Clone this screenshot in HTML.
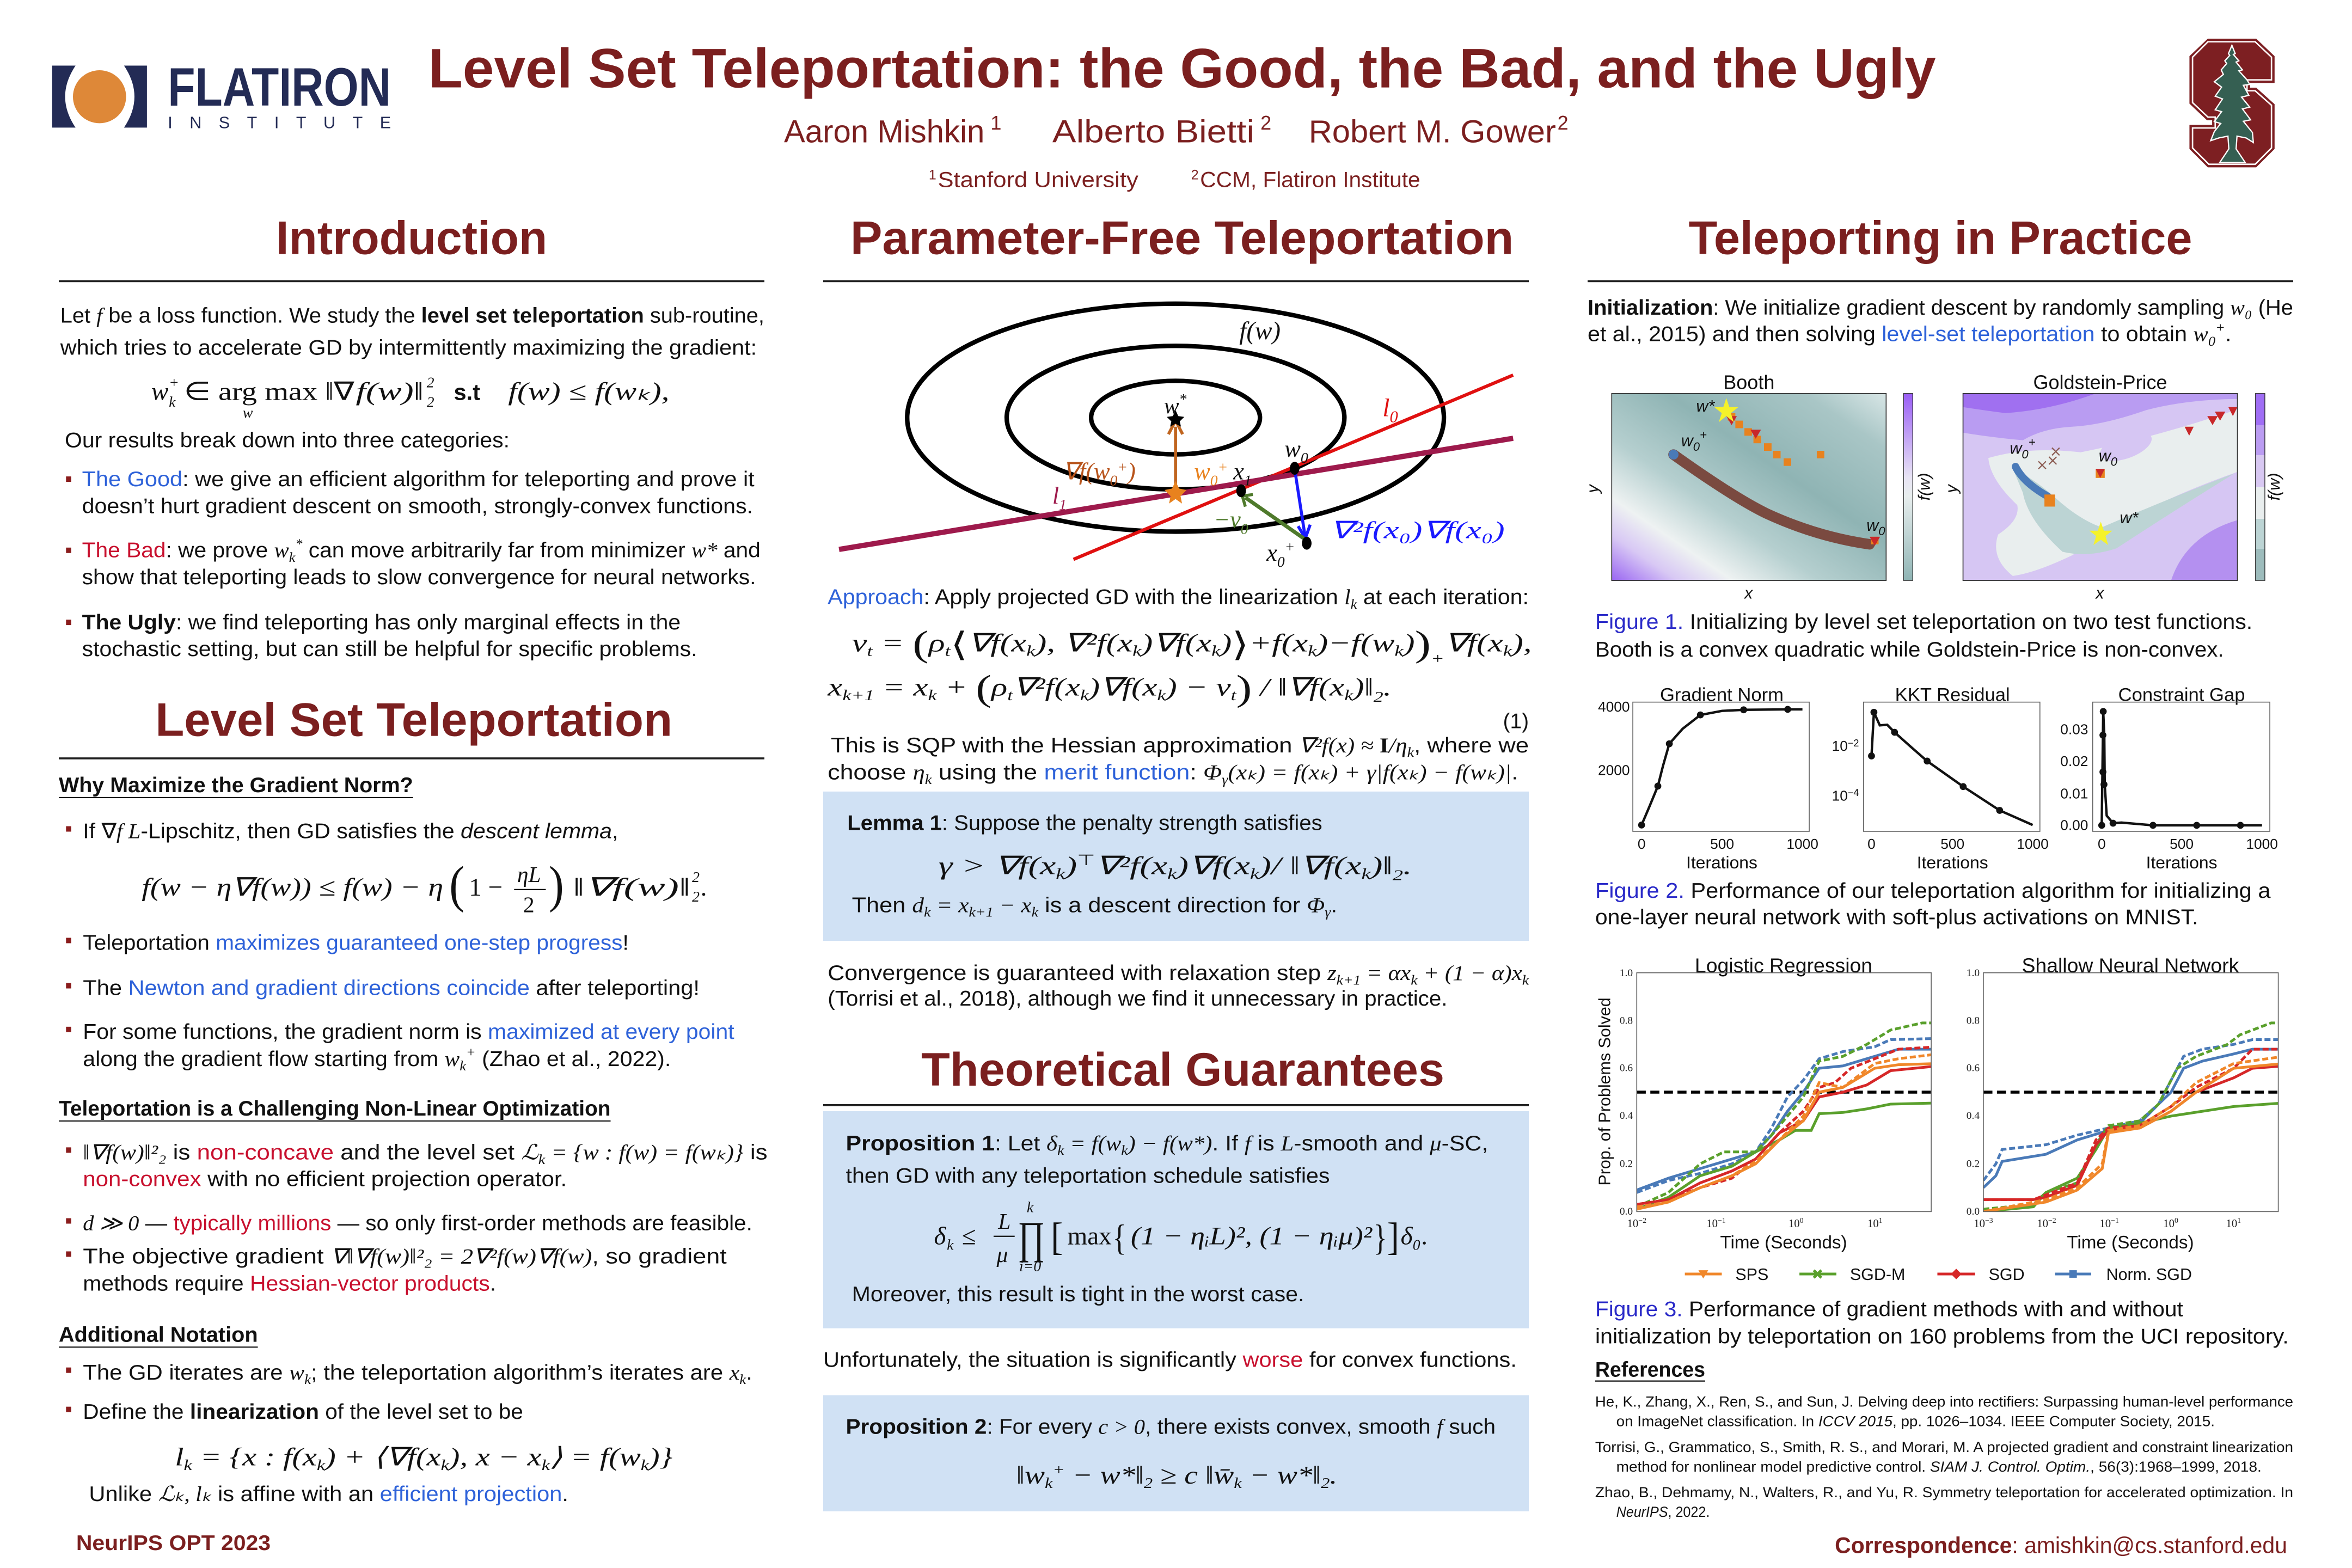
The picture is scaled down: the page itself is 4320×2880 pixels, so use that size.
<!DOCTYPE html>
<html><head><meta charset="utf-8"><style>
html,body{margin:0;padding:0;background:#fff}
svg{display:block;font-size:14px}
.t{font-family:"Liberation Sans",sans-serif;fill:#111}
.m{font-family:"Liberation Serif",serif;font-style:italic}
.b{font-weight:bold}
.bl{fill:#2e62d9}
.rd{fill:#c8102e}
.dr{fill:#7b1f1f}
.h{font-family:"Liberation Sans",sans-serif;font-weight:bold;font-size:31px;fill:#7b1f1f}
.tk{font-family:"Liberation Serif",serif;fill:#222}
.tk2{font-family:"Liberation Sans",sans-serif;fill:#111}
.ln{fill:none;vector-effect:non-scaling-stroke;stroke-width:5}
.ds{stroke-dasharray:11 5}
</style></head><body>
<svg width="4320" height="2880" viewBox="0 0 1560 1040" xmlns="http://www.w3.org/2000/svg">
<defs>
<linearGradient id="booth" x1="0" y1="1" x2="1" y2="0">
<stop offset="0" stop-color="#9a66f2"/><stop offset="0.12" stop-color="#d8c8f4"/><stop offset="0.22" stop-color="#eef2f2"/><stop offset="0.38" stop-color="#b5cfcf"/><stop offset="0.6" stop-color="#8fb4b4"/><stop offset="0.85" stop-color="#a9c6c6"/><stop offset="1" stop-color="#d8e6e6"/>
</linearGradient>
<linearGradient id="cb1" x1="0" y1="0" x2="0" y2="1">
<stop offset="0" stop-color="#9a5ef5"/><stop offset="0.45" stop-color="#e8e4f4"/><stop offset="0.55" stop-color="#e8eeee"/><stop offset="1" stop-color="#8fb4b4"/>
</linearGradient>
<linearGradient id="cb2" x1="0" y1="0" x2="0" y2="1">
<stop offset="0" stop-color="#a06ef5"/><stop offset="0.17" stop-color="#a06ef5"/><stop offset="0.17" stop-color="#bb9cf2"/><stop offset="0.33" stop-color="#bb9cf2"/><stop offset="0.33" stop-color="#d8c8f2"/><stop offset="0.5" stop-color="#d8c8f2"/><stop offset="0.5" stop-color="#e9eeee"/><stop offset="0.67" stop-color="#e9eeee"/><stop offset="0.67" stop-color="#bcd4d4"/><stop offset="0.83" stop-color="#bcd4d4"/><stop offset="0.83" stop-color="#9dbcbc"/><stop offset="1" stop-color="#9dbcbc"/>
</linearGradient>
<clipPath id="cpA"><rect x="1085.6" y="645.2" width="195.3" height="158.4"/></clipPath>
<clipPath id="cpB"><rect x="1315.5" y="645.2" width="195.6" height="158.4"/></clipPath>
<clipPath id="cpG"><rect x="1302" y="261" width="182" height="124"/></clipPath>
</defs>

<!-- Flatiron logo -->
<g transform="scale(0.3456,0.1612)">
<path d="M100,270 H145 Q105,398 145,525 H100 Z" fill="#232b55"/>
<path d="M282,270 H238 Q278,398 238,525 H282 Z" fill="#232b55"/>
<ellipse cx="191" cy="398" rx="51" ry="109" fill="#de8838"/>
</g>
<text x="111.3" y="70" font-family="Liberation Sans" font-weight="bold" font-size="36" fill="#232b55" textLength="148" lengthAdjust="spacingAndGlyphs">FLATIRON</text>
<text x="111.3" y="85" font-family="Liberation Sans" font-size="11" fill="#232b55" textLength="148" lengthAdjust="spacing">INSTITUTE</text>

<!-- Stanford logo -->
<g transform="translate(1444.6,14.45) scale(0.1204)">
<polygon points="165,95 430,95 530,190 530,335 395,335 395,365 430,365 530,455 530,700 430,800 165,800 65,700 65,570 190,570 190,540 160,540 65,450 65,190" fill="#7d1f22" stroke="#7d1f22" stroke-width="4"/>
<polygon points="165,110 425,110 515,195 515,320 380,320 380,380 425,380 515,460 515,695 425,785 170,785 80,695 80,585 205,585 205,525 165,525 80,445 80,195" fill="none" stroke="#fff" stroke-width="8"/>
<path d="M297,130 L315,175 L305,180 L335,215 L320,222 L355,265 L335,270 L380,320 L395,345 L360,350 L390,405 L350,415 L395,470 L355,480 L400,540 L360,548 L410,610 L415,665 L375,640 L325,630 L320,700 L370,775 L230,775 L280,700 L275,630 L225,640 L180,655 L200,605 L235,560 L200,550 L240,495 L205,485 L245,425 L205,410 L240,360 L200,330 L250,290 L238,265 L268,230 L258,215 L285,185 L278,175 Z" fill="#355f52" stroke="#fff" stroke-width="7"/>
</g>

<!-- Header -->
<text x="284" y="58" font-family="Liberation Sans" font-weight="bold" font-size="37" class="dr" textLength="1000" lengthAdjust="spacingAndGlyphs">Level Set Teleportation: the Good, the Bad, and the Ugly</text>
<g font-family="Liberation Sans" font-size="21" class="dr">
<text x="520" y="94.5" textLength="133" lengthAdjust="spacingAndGlyphs">Aaron Mishkin</text><text x="657" y="86" font-size="13">1</text>
<text x="698" y="94.5" textLength="134" lengthAdjust="spacingAndGlyphs">Alberto Bietti</text><text x="836" y="86" font-size="13">2</text>
<text x="868" y="94.5" textLength="164" lengthAdjust="spacingAndGlyphs">Robert M. Gower</text><text x="1033" y="86" font-size="13">2</text>
</g>
<g font-family="Liberation Sans" font-size="14.5" class="dr">
<text x="616" y="119" font-size="9">1</text><text x="622" y="124" textLength="133" lengthAdjust="spacingAndGlyphs">Stanford University</text>
<text x="790" y="119" font-size="9">2</text><text x="796" y="124" textLength="146" lengthAdjust="spacingAndGlyphs">CCM, Flatiron Institute</text>
</g>

<!-- Section headings and rules -->
<text x="183" y="168.5" class="h" textLength="180" lengthAdjust="spacingAndGlyphs">Introduction</text>
<text x="564" y="168.5" class="h" textLength="440" lengthAdjust="spacingAndGlyphs">Parameter-Free Teleportation</text>
<text x="1120" y="168.5" class="h" textLength="334" lengthAdjust="spacingAndGlyphs">Teleporting in Practice</text>
<line x1="39" y1="186.5" x2="507" y2="186.5" stroke="#222" stroke-width="1.3"/>
<line x1="546" y1="186.5" x2="1014" y2="186.5" stroke="#222" stroke-width="1.3"/>
<line x1="1053" y1="186.5" x2="1521" y2="186.5" stroke="#222" stroke-width="1.3"/>
<text x="103" y="488" class="h" textLength="343" lengthAdjust="spacingAndGlyphs">Level Set Teleportation</text>
<line x1="39" y1="503" x2="507" y2="503" stroke="#222" stroke-width="1.3"/>
<text x="611" y="720" class="h" textLength="347" lengthAdjust="spacingAndGlyphs">Theoretical Guarantees</text>
<line x1="546" y1="733" x2="1014" y2="733" stroke="#222" stroke-width="1.3"/>

<!-- LEFT COLUMN -->
<text x="40" y="214" class="t" textLength="467" lengthAdjust="spacingAndGlyphs">Let <tspan class="m">f</tspan> be a loss function. We study the <tspan class="b">level set teleportation</tspan> sub-routine,</text>
<text x="40" y="235.3" class="t" textLength="462" lengthAdjust="spacingAndGlyphs">which tries to accelerate GD by intermittently maximizing the gradient:</text>
<g class="m" font-size="17" fill="#111">
<text x="100.4" y="265.3">w</text><text x="112" y="270" font-size="10">k</text><text x="112" y="257" font-size="10">+</text>
<text x="122" y="265.3" font-style="normal" textLength="113" lengthAdjust="spacingAndGlyphs">∈ arg max ‖∇</text>
<text x="236" y="265.3" textLength="45" lengthAdjust="spacingAndGlyphs">f(w)‖</text><text x="283" y="270" font-size="10">2</text><text x="283" y="257" font-size="10">2</text>
<text x="301" y="265.3" font-family="Liberation Sans" font-style="normal" font-weight="bold" font-size="15">s.t</text>
<text x="337" y="265.3" textLength="107" lengthAdjust="spacingAndGlyphs">f(w) ≤ f(wₖ),</text>
<text x="161" y="277" font-size="10">w</text>
</g>
<text x="43" y="296.7" class="t" textLength="295" lengthAdjust="spacingAndGlyphs">Our results break down into three categories:</text>
<g fill="#8a1c1c"><rect x="43.8" y="316" width="3.4" height="3.6"/><rect x="43.8" y="363.2" width="3.4" height="3.6"/><rect x="43.8" y="411" width="3.4" height="3.6"/></g>
<text x="54.4" y="322.4" class="t" textLength="446" lengthAdjust="spacingAndGlyphs"><tspan class="bl">The Good</tspan>: we give an efficient algorithm for teleporting and prove it</text>
<text x="54.4" y="340.3" class="t" textLength="445" lengthAdjust="spacingAndGlyphs">doesn’t hurt gradient descent on smooth, strongly-convex functions.</text>
<text x="54.4" y="369.6" class="t" textLength="450" lengthAdjust="spacingAndGlyphs"><tspan class="rd">The Bad</tspan>: we prove <tspan class="m">w</tspan><tspan class="m" font-size="9" dy="3">k</tspan><tspan class="m" font-size="9" dy="-9">*</tspan><tspan dy="6"> can move arbitrarily far from minimizer </tspan><tspan class="m">w*</tspan> and</text>
<text x="54.4" y="387.4" class="t" textLength="447" lengthAdjust="spacingAndGlyphs">show that teleporting leads to slow convergence for neural networks.</text>
<text x="54.4" y="417.4" class="t" textLength="397" lengthAdjust="spacingAndGlyphs"><tspan class="b">The Ugly</tspan>: we find teleporting has only marginal effects in the</text>
<text x="54.4" y="435.2" class="t" textLength="408" lengthAdjust="spacingAndGlyphs">stochastic setting, but can still be helpful for specific problems.</text>

<text x="39" y="525.5" class="t b" textLength="235" lengthAdjust="spacingAndGlyphs">Why Maximize the Gradient Norm?</text>
<line x1="39" y1="529" x2="274" y2="529" stroke="#111" stroke-width="0.8"/>
<g fill="#8a1c1c"><rect x="43.8" y="548" width="3.4" height="3.6"/><rect x="43.8" y="622" width="3.4" height="3.6"/><rect x="43.8" y="652" width="3.4" height="3.6"/><rect x="43.8" y="681" width="3.4" height="3.6"/><rect x="43.8" y="761" width="3.4" height="3.6"/><rect x="43.8" y="808" width="3.4" height="3.6"/><rect x="43.8" y="830" width="3.4" height="3.6"/><rect x="43.8" y="907" width="3.4" height="3.6"/><rect x="43.8" y="933" width="3.4" height="3.6"/></g>
<text x="55" y="556" class="t" textLength="355" lengthAdjust="spacingAndGlyphs">If ∇<tspan class="m">f  L</tspan>-Lipschitz, then GD satisfies the <tspan font-style="italic">descent lemma</tspan>,</text>
<g class="m" font-size="17" fill="#111">
<text x="94" y="594" textLength="200" lengthAdjust="spacingAndGlyphs">f(w − η∇f(w)) ≤ f(w) − η</text>
<text x="298" y="598" font-style="normal" font-size="34" textLength="10" lengthAdjust="spacingAndGlyphs">(</text>
<text x="311" y="594" font-style="normal">1 −</text>
<text x="343" y="585" font-size="15">ηL</text>
<line x1="341" y1="590" x2="362" y2="590" stroke="#111" stroke-width="0.8"/>
<text x="347" y="605" font-style="normal" font-size="15">2</text>
<text x="364" y="598" font-style="normal" font-size="34" textLength="10" lengthAdjust="spacingAndGlyphs">)</text>
<text x="380" y="594" textLength="78" lengthAdjust="spacingAndGlyphs">‖∇f(w)‖</text><text x="459" y="598" font-size="10">2</text><text x="459" y="585" font-size="10">2</text><text x="465" y="594">.</text>
</g>
<text x="55" y="630" class="t" textLength="362" lengthAdjust="spacingAndGlyphs">Teleportation <tspan class="bl">maximizes guaranteed one-step progress</tspan>!</text>
<text x="55" y="660" class="t" textLength="409" lengthAdjust="spacingAndGlyphs">The <tspan class="bl">Newton and gradient directions coincide</tspan> after teleporting!</text>
<text x="55" y="689" class="t" textLength="432" lengthAdjust="spacingAndGlyphs">For some functions, the gradient norm is <tspan class="bl">maximized at every point</tspan></text>
<text x="55" y="707" class="t" textLength="390" lengthAdjust="spacingAndGlyphs">along the gradient flow starting from <tspan class="m">w</tspan><tspan class="m" font-size="9" dy="3">k</tspan><tspan class="m" font-size="9" dy="-9">+</tspan><tspan dy="6"> (Zhao et al., 2022).</tspan></text>
<text x="39" y="740" class="t b" textLength="366" lengthAdjust="spacingAndGlyphs">Teleportation is a Challenging Non-Linear Optimization</text>
<line x1="39" y1="743.5" x2="405" y2="743.5" stroke="#111" stroke-width="0.8"/>
<text x="55" y="769" class="t" textLength="454" lengthAdjust="spacingAndGlyphs"><tspan class="m">‖∇f(w)‖²₂</tspan> is <tspan class="rd">non-concave</tspan> and the level set <tspan class="m">ℒ</tspan><tspan class="m" font-size="9" dy="3">k</tspan><tspan class="m" dy="-3"> = {w : f(w) = f(wₖ)}</tspan> is</text>
<text x="55" y="786.7" class="t" textLength="321" lengthAdjust="spacingAndGlyphs"><tspan class="rd">non-convex</tspan> with no efficient projection operator.</text>
<text x="55" y="816" class="t" textLength="444" lengthAdjust="spacingAndGlyphs"><tspan class="m">d ≫ 0</tspan> — <tspan class="rd">typically millions</tspan> — so only first-order methods are feasible.</text>
<text x="55" y="838" class="t" textLength="427" lengthAdjust="spacingAndGlyphs">The objective gradient <tspan class="m">∇‖∇f(w)‖²₂ = 2∇²f(w)∇f(w)</tspan>, so gradient</text>
<text x="55" y="856" class="t" textLength="274" lengthAdjust="spacingAndGlyphs">methods require <tspan class="rd">Hessian-vector products</tspan>.</text>
<text x="39" y="890" class="t b" textLength="132" lengthAdjust="spacingAndGlyphs">Additional Notation</text>
<line x1="39" y1="893.5" x2="171" y2="893.5" stroke="#111" stroke-width="0.8"/>
<text x="55" y="915" class="t" textLength="444" lengthAdjust="spacingAndGlyphs">The GD iterates are <tspan class="m">w</tspan><tspan class="m" font-size="9" dy="3">k</tspan><tspan dy="-3">; the teleportation algorithm’s iterates are </tspan><tspan class="m">x</tspan><tspan class="m" font-size="9" dy="3">k</tspan><tspan dy="-3">.</tspan></text>
<text x="55" y="941" class="t" textLength="292" lengthAdjust="spacingAndGlyphs">Define the <tspan class="b">linearization</tspan> of the level set to be</text>
<text x="116" y="972" class="t m" font-size="17" textLength="330" lengthAdjust="spacingAndGlyphs">l<tspan font-size="10" dy="3">k</tspan><tspan dy="-3"> = {x : f(x</tspan><tspan font-size="10" dy="3">k</tspan><tspan dy="-3">) + ⟨∇f(x</tspan><tspan font-size="10" dy="3">k</tspan><tspan dy="-3">), x − x</tspan><tspan font-size="10" dy="3">k</tspan><tspan dy="-3">⟩ = f(w</tspan><tspan font-size="10" dy="3">k</tspan><tspan dy="-3">)}</tspan></text>
<text x="59" y="995.6" class="t" textLength="318" lengthAdjust="spacingAndGlyphs">Unlike <tspan class="m">ℒₖ, lₖ</tspan> is affine with an <tspan class="bl">efficient projection</tspan>.</text>
<text x="50.5" y="1028" class="t b dr" textLength="129" lengthAdjust="spacingAndGlyphs">NeurIPS OPT 2023</text>

<!-- MIDDLE COLUMN: diagram -->
<g fill="none" stroke="#000" stroke-width="3">
<ellipse cx="779.7" cy="277" rx="178" ry="75.6"/>
<ellipse cx="779.7" cy="277" rx="112" ry="47.6"/>
<ellipse cx="779.7" cy="277" rx="56" ry="24.4"/>
</g>
<line x1="712" y1="371" x2="1003.6" y2="248.8" stroke="#e01010" stroke-width="2.2"/>
<line x1="556.5" y1="364.4" x2="1003.6" y2="290.7" stroke="#9e1a4c" stroke-width="3.5"/>
<line x1="779.7" y1="327" x2="779.7" y2="283" stroke="#c0651f" stroke-width="2"/>
<path d="M775,288 L779.7,279 L784.4,288" fill="none" stroke="#c0651f" stroke-width="2"/>
<polygon points="779.7,319 782,324 787,325 783,329 784,334 779.7,331 775.4,334 776.4,329 772.4,325 777.4,324" fill="#e8821e"/>
<polygon points="779.7,272 781.5,276 785.5,276.5 782.5,279.5 783.3,283 779.7,281 776.1,283 776.9,279.5 773.9,276.5 777.9,276" fill="#000"/>
<line x1="858.7" y1="311" x2="865.5" y2="355" stroke="#1a1aff" stroke-width="2"/>
<path d="M861,349 L865.8,357 L869,348" fill="none" stroke="#1a1aff" stroke-width="2"/>
<line x1="866" y1="358" x2="826" y2="330" stroke="#4f7a2c" stroke-width="2.5"/>
<path d="M826,336 L824,329 L831,328" fill="none" stroke="#4f7a2c" stroke-width="2"/>
<ellipse cx="858.7" cy="310.6" rx="3.2" ry="4.3" fill="#000"/>
<ellipse cx="823.2" cy="325.5" rx="3.2" ry="4.3" fill="#000"/>
<ellipse cx="866.7" cy="360.3" rx="3.2" ry="4.3" fill="#000"/>
<g font-family="Liberation Serif" font-style="italic" font-size="17">
<text x="822" y="225" fill="#111">f(w)</text>
<text x="772" y="274" fill="#111" font-size="15">w<tspan font-size="10" dy="-6">*</tspan></text>
<text x="917" y="276" fill="#e01010">l<tspan font-size="11" dy="4">0</tspan></text>
<text x="705" y="318" fill="#b8541c" font-size="16">∇f(w<tspan font-size="10" dy="4">0</tspan><tspan font-size="10" dy="-9">+</tspan><tspan dy="5">)</tspan></text>
<text x="792" y="318" fill="#e8821e" font-size="16">w<tspan font-size="10" dy="4">0</tspan><tspan font-size="10" dy="-9">+</tspan></text>
<text x="818" y="318" fill="#111" font-size="16">x<tspan font-size="10" dy="4">1</tspan></text>
<text x="852" y="303" fill="#111" font-size="16">w<tspan font-size="10" dy="4">0</tspan></text>
<text x="698" y="334" fill="#9e1a4c" font-size="16">l<tspan font-size="10" dy="4">1</tspan></text>
<text x="805" y="350" fill="#4f7a2c" font-size="16">−v<tspan font-size="10" dy="4">0</tspan></text>
<text x="882" y="357" fill="#1a1aff" font-size="16" textLength="116" lengthAdjust="spacingAndGlyphs">∇²f(x₀)∇f(x₀)</text>
<text x="840" y="372" fill="#111" font-size="16">x<tspan font-size="10" dy="4">0</tspan><tspan font-size="10" dy="-10">+</tspan></text>
</g>

<!-- MIDDLE text -->
<text x="549" y="400.7" class="t" textLength="465" lengthAdjust="spacingAndGlyphs"><tspan class="bl">Approach</tspan>: Apply projected GD with the linearization <tspan class="m">l</tspan><tspan class="m" font-size="9" dy="3">k</tspan><tspan dy="-3"> at each iteration:</tspan></text>
<text x="565" y="432" class="t m" font-size="17" textLength="451" lengthAdjust="spacingAndGlyphs">v<tspan font-size="10" dy="3">t</tspan><tspan dy="-3"> = </tspan><tspan font-size="24" font-style="normal" dy="3">(</tspan><tspan dy="-3">ρ</tspan><tspan font-size="10" dy="3">t</tspan><tspan font-size="22" font-style="normal" dy="0">⟨</tspan><tspan dy="-3">∇f(x</tspan><tspan font-size="10" dy="3">k</tspan><tspan dy="-3">), ∇²f(x</tspan><tspan font-size="10" dy="3">k</tspan><tspan dy="-3">)∇f(x</tspan><tspan font-size="10" dy="3">k</tspan><tspan dy="-3">)</tspan><tspan font-size="22" font-style="normal" dy="3">⟩</tspan><tspan dy="-3">+f(x</tspan><tspan font-size="10" dy="3">k</tspan><tspan dy="-3">)−f(w</tspan><tspan font-size="10" dy="3">k</tspan><tspan dy="-3">)</tspan><tspan font-size="24" font-style="normal" dy="3">)</tspan><tspan font-size="10" dy="5">+</tspan><tspan dy="-8">∇f(x</tspan><tspan font-size="10" dy="3">k</tspan><tspan dy="-3">),</tspan></text>
<text x="549" y="461.4" class="t m" font-size="17" textLength="374" lengthAdjust="spacingAndGlyphs">x<tspan font-size="10" dy="3">k+1</tspan><tspan dy="-3"> = x</tspan><tspan font-size="10" dy="3">k</tspan><tspan dy="-3"> + </tspan><tspan font-size="24" font-style="normal" dy="3">(</tspan><tspan dy="-3">ρ</tspan><tspan font-size="10" dy="3">t</tspan><tspan dy="-3">∇²f(x</tspan><tspan font-size="10" dy="3">k</tspan><tspan dy="-3">)∇f(x</tspan><tspan font-size="10" dy="3">k</tspan><tspan dy="-3">) − v</tspan><tspan font-size="10" dy="3">t</tspan><tspan font-size="24" font-style="normal" dy="0">)</tspan><tspan dy="-3"> / ‖∇f(x</tspan><tspan font-size="10" dy="3">k</tspan><tspan dy="-3">)‖</tspan><tspan font-size="10" dy="4">2</tspan><tspan dy="-4">.</tspan></text>
<text x="1014" y="483" class="t" text-anchor="end">(1)</text>
<text x="551" y="499" class="t" textLength="463" lengthAdjust="spacingAndGlyphs">This is SQP with the Hessian approximation <tspan class="m">∇²f(x) ≈ </tspan><tspan font-family="Liberation Serif" font-weight="bold">I</tspan><tspan class="m">/η</tspan><tspan class="m" font-size="9" dy="3">k</tspan><tspan dy="-3">, where we</tspan></text>
<text x="549" y="517" class="t" textLength="458" lengthAdjust="spacingAndGlyphs">choose <tspan class="m">η</tspan><tspan class="m" font-size="9" dy="3">k</tspan><tspan dy="-3"> using the </tspan><tspan class="bl">merit function</tspan>: <tspan class="m">Φ</tspan><tspan class="m" font-size="9" dy="3">γ</tspan><tspan class="m" dy="-3">(xₖ) = f(xₖ) + γ|f(xₖ) − f(wₖ)|</tspan>.</text>
<rect x="546" y="525" width="468" height="99" fill="#d0e1f4"/>
<text x="562" y="550.5" class="t" textLength="315" lengthAdjust="spacingAndGlyphs"><tspan class="b">Lemma 1</tspan>: Suppose the penalty strength satisfies</text>
<text x="622.5" y="579.8" class="t m" font-size="17" textLength="314" lengthAdjust="spacingAndGlyphs">γ &gt; ∇f(x<tspan font-size="10" dy="3">k</tspan><tspan dy="-3">)</tspan><tspan font-size="10" dy="-6" font-style="normal">⊤</tspan><tspan dy="6">∇²f(x</tspan><tspan font-size="10" dy="3">k</tspan><tspan dy="-3">)∇f(x</tspan><tspan font-size="10" dy="3">k</tspan><tspan dy="-3">)/ ‖∇f(x</tspan><tspan font-size="10" dy="3">k</tspan><tspan dy="-3">)‖</tspan><tspan font-size="10" dy="4">2</tspan><tspan dy="-4">.</tspan></text>
<text x="565" y="605" class="t" textLength="322" lengthAdjust="spacingAndGlyphs">Then <tspan class="m">d</tspan><tspan class="m" font-size="9" dy="3">k</tspan><tspan class="m" dy="-3"> = x</tspan><tspan class="m" font-size="9" dy="3">k+1</tspan><tspan class="m" dy="-3"> − x</tspan><tspan class="m" font-size="9" dy="3">k</tspan><tspan dy="-3"> is a descent direction for </tspan><tspan class="m">Φ</tspan><tspan class="m" font-size="9" dy="3">γ</tspan><tspan dy="-3">.</tspan></text>
<text x="549" y="650" class="t" textLength="465" lengthAdjust="spacingAndGlyphs">Convergence is guaranteed with relaxation step <tspan class="m">z</tspan><tspan class="m" font-size="9" dy="3">k+1</tspan><tspan class="m" dy="-3"> = αx</tspan><tspan class="m" font-size="9" dy="3">k</tspan><tspan class="m" dy="-3"> + (1 − α)x</tspan><tspan class="m" font-size="9" dy="3">k</tspan></text>
<text x="549" y="667" class="t" textLength="411" lengthAdjust="spacingAndGlyphs">(Torrisi et al., 2018), although we find it unnecessary in practice.</text>

<rect x="546" y="737" width="468" height="144" fill="#d0e1f4"/>
<text x="561" y="763" class="t" textLength="426" lengthAdjust="spacingAndGlyphs"><tspan class="b">Proposition 1</tspan>: Let <tspan class="m">δ</tspan><tspan class="m" font-size="9" dy="3">k</tspan><tspan class="m" dy="-3"> = f(w</tspan><tspan class="m" font-size="9" dy="3">k</tspan><tspan class="m" dy="-3">) − f(w*)</tspan>. If <tspan class="m">f</tspan> is <tspan class="m">L</tspan>-smooth and <tspan class="m">μ</tspan>-SC,</text>
<text x="561" y="784.6" class="t" textLength="321" lengthAdjust="spacingAndGlyphs">then GD with any teleportation schedule satisfies</text>
<g class="m" font-size="17" fill="#111">
<text x="619.5" y="825.3">δ</text><text x="628" y="829" font-size="10">k</text><text x="638" y="825.3" font-style="normal">≤</text>
<text x="662" y="815" font-size="15">L</text>
<line x1="659" y1="820" x2="673" y2="820" stroke="#111" stroke-width="0.8"/>
<text x="661" y="837" font-size="15">μ</text>
<text x="681" y="804" font-size="10">k</text>
<text x="676" y="843" font-size="10">i=0</text>
<text x="675" y="831" font-style="normal" font-size="30" textLength="18" lengthAdjust="spacingAndGlyphs">∏</text>
<text x="697" y="829" font-style="normal" font-size="26" textLength="8" lengthAdjust="spacingAndGlyphs">[</text>
<text x="708" y="825.3" font-style="normal">max</text>
<text x="738" y="829" font-style="normal" font-size="24" textLength="9" lengthAdjust="spacingAndGlyphs">{</text>
<text x="750" y="825.3" textLength="160" lengthAdjust="spacingAndGlyphs">(1 − ηᵢL)², (1 − ηᵢμ)²</text>
<text x="911" y="829" font-style="normal" font-size="24" textLength="9" lengthAdjust="spacingAndGlyphs">}</text>
<text x="920" y="829" font-style="normal" font-size="26" textLength="8" lengthAdjust="spacingAndGlyphs">]</text>
<text x="929" y="825.3">δ</text><text x="937" y="829" font-size="10">0</text><text x="943" y="825.3">.</text>
</g>
<text x="565" y="863" class="t" textLength="300" lengthAdjust="spacingAndGlyphs">Moreover, this result is tight in the worst case.</text>
<text x="546" y="906.5" class="t" textLength="460" lengthAdjust="spacingAndGlyphs">Unfortunately, the situation is significantly <tspan class="rd">worse</tspan> for convex functions.</text>
<rect x="546" y="925.4" width="468" height="77" fill="#d0e1f4"/>
<text x="561" y="951" class="t" textLength="431" lengthAdjust="spacingAndGlyphs"><tspan class="b">Proposition 2</tspan>: For every <tspan class="m">c &gt; 0</tspan>, there exists convex, smooth <tspan class="m">f</tspan> such</text>
<text x="674" y="984" class="t m" font-size="17" textLength="213" lengthAdjust="spacingAndGlyphs">‖w<tspan font-size="10" dy="3">k</tspan><tspan font-size="10" dy="-9">+</tspan><tspan dy="6"> − w*‖</tspan><tspan font-size="10" dy="3">2</tspan><tspan dy="-3"> ≥ c ‖w̄</tspan><tspan font-size="10" dy="3">k</tspan><tspan dy="-3"> − w*‖</tspan><tspan font-size="10" dy="3">2</tspan><tspan dy="-3">.</tspan></text>

<!-- RIGHT COLUMN -->
<text x="1053" y="208.8" class="t" textLength="468" lengthAdjust="spacingAndGlyphs"><tspan class="b">Initialization</tspan>: We initialize gradient descent by randomly sampling <tspan class="m">w₀</tspan> (He</text>
<text x="1053" y="226.3" class="t" textLength="427" lengthAdjust="spacingAndGlyphs">et al., 2015) and then solving <tspan class="bl">level-set teleportation</tspan> to obtain <tspan class="m">w</tspan><tspan class="m" font-size="9" dy="3">0</tspan><tspan class="m" font-size="9" dy="-9">+</tspan><tspan dy="6">.</tspan></text>

<!-- Figure 1 -->
<text x="1160" y="258" class="tk2" font-size="13" text-anchor="middle">Booth</text>
<text x="1393" y="258" class="tk2" font-size="13" text-anchor="middle">Goldstein-Price</text>
<rect x="1069" y="261" width="182" height="124" fill="url(#booth)" stroke="#333" stroke-width="0.6"/>
<path d="M1110,301.5 Q1150,330 1171.5,340.5 Q1205,356 1240,361" fill="none" stroke="#7a4a40" stroke-width="7" stroke-linecap="round"/>
<circle cx="1110" cy="301.5" r="3.3" fill="#4a7ab8"/>
<g fill="#e8821e"><rect x="1146" y="274" width="5" height="5"/><rect x="1151" y="279" width="5" height="5"/><rect x="1157" y="284" width="5" height="5"/><rect x="1163" y="289" width="5" height="5"/><rect x="1170" y="294" width="5" height="5"/><rect x="1176" y="299" width="5" height="5"/><rect x="1183" y="304" width="5" height="5"/><rect x="1205" y="299" width="5" height="5"/><rect x="1241" y="356" width="5" height="5"/></g>
<g fill="#c8282a"><polygon points="1145,276 1152,276 1148.5,282"/><polygon points="1161,285 1168,285 1164.5,291"/><polygon points="1240,356 1247,356 1243.5,362"/></g>
<polygon points="1145,264 1147,270 1153,270 1148,274 1150,280 1145,276 1140,280 1142,274 1137,270 1143,270" fill="#f5f22a"/>
<g font-family="Liberation Sans" font-style="italic" font-size="11" fill="#111">
<text x="1125" y="273">w*</text><text x="1115" y="296">w<tspan font-size="8" dy="3">0</tspan><tspan font-size="8" dy="-8">+</tspan></text><text x="1238" y="352">w<tspan font-size="8" dy="3">0</tspan></text>
<text x="1060" y="327" transform="rotate(-90 1060 327)">y</text>
<text x="1157" y="397">x</text>
<text x="1280" y="332" transform="rotate(-90 1280 332)">f(w)</text>
<text x="1298" y="327" transform="rotate(-90 1298 327)">y</text>
<text x="1390" y="397">x</text>
<text x="1512" y="332" transform="rotate(-90 1512 332)">f(w)</text>
</g>
<rect x="1262.5" y="261" width="6.2" height="124" fill="url(#cb1)" stroke="#333" stroke-width="0.5"/>
<rect x="1496" y="261" width="6.2" height="124" fill="url(#cb2)" stroke="#333" stroke-width="0.5"/>
<g clip-path="url(#cpG)">
<rect x="1302" y="261" width="182" height="124" fill="#d6c6f3"/>
<path d="M1302,261 H1484 V264.6 Q1450,265 1423.5,272 Q1395,282 1374.4,283 Q1355,284 1341.7,292 Q1320,290 1302,287 Z" fill="#b99cf2"/>
<path d="M1302,261 H1390 Q1360,272 1330,274 Q1315,272 1302,270 Z" fill="#a070f0"/>
<path d="M1318.8,303.8 Q1345,296 1380,300 Q1430,290 1484,271.5 V313 Q1450,325 1423.5,338.3 Q1395,355 1374.4,368.3 Q1350,380 1335,382 Q1320,370 1325.3,354.5 Q1340,345 1338,335 Q1320,318 1318.8,303.8 Z" fill="#e9eeee"/>
<path d="M1335,310.7 Q1350,318 1364.6,331.4 Q1380,345 1394,349.8 Q1440,330 1482,314 Q1440,340 1403.8,363.7 Q1385,370 1368,366 Q1345,345 1341.7,326.8 Z" fill="#bcd4d4"/>
<ellipse cx="1410" cy="296" rx="18" ry="8" fill="#d6c6f3" transform="rotate(-20 1410 296)"/>
<path d="M1440,385 Q1450,355 1484,345 V385 Z" fill="#b490f0"/>
<path d="M1336.8,309.5 Q1342,320 1358,329.1" fill="none" stroke="#4a7ab8" stroke-width="5" stroke-linecap="round"/>
<rect x="1356" y="328" width="7" height="8" fill="#e8821e"/>
<rect x="1390" y="311" width="6" height="6" fill="#e8821e"/>
<g fill="#c8282a"><polygon points="1390,311 1396,311 1393,317"/><polygon points="1449,283 1455,283 1452,289"/><polygon points="1464,276 1471,276 1467.5,282"/><polygon points="1469,273 1476,273 1472.5,279"/><polygon points="1478,270 1484,270 1481,276"/></g>
<g stroke="#8a5a50" stroke-width="0.8"><path d="M1352,306 l5,5 M1357,306 l-5,5 M1361,297 l5,5 M1366,297 l-5,5 M1359,303 l5,5 M1364,303 l-5,5"/></g>
<polygon points="1393.4,346 1395.4,352 1401,352 1396.5,355.5 1398.3,361.5 1393.4,358 1388.5,361.5 1390.3,355.5 1385.8,352 1391.4,352" fill="#f5f22a"/>
</g>
<rect x="1302" y="261" width="182" height="124" fill="none" stroke="#333" stroke-width="0.6"/>
<g font-family="Liberation Sans" font-style="italic" font-size="11" fill="#111">
<text x="1333" y="301">w<tspan font-size="8" dy="3">0</tspan><tspan font-size="8" dy="-8">+</tspan></text><text x="1392" y="306">w<tspan font-size="8" dy="3">0</tspan></text><text x="1406" y="347">w*</text>
</g>
<text x="1058" y="417" class="t" textLength="436" lengthAdjust="spacingAndGlyphs"><tspan fill="#2a2ac8">Figure 1.</tspan> Initializing by level set teleportation on two test functions.</text>
<text x="1058" y="435.5" class="t" textLength="417" lengthAdjust="spacingAndGlyphs">Booth is a convex quadratic while Goldstein-Price is non-convex.</text>

<!-- Figure 2 -->
<text x="1142" y="465" class="tk2" font-size="12.5" text-anchor="middle">Gradient Norm</text><text x="1295" y="465" class="tk2" font-size="12.5" text-anchor="middle">KKT Residual</text><text x="1447" y="465" class="tk2" font-size="12.5" text-anchor="middle">Constraint Gap</text>
<g fill="none" stroke="#666" stroke-width="0.6"><rect x="1083" y="465.7" width="117" height="85.7"/><rect x="1236" y="465.7" width="117" height="85.7"/><rect x="1388" y="465.7" width="117.5" height="85.7"/></g>
<g fill="none" stroke="#111" stroke-width="1.6">
<polyline points="1088.8,547.2 1094,535 1099.6,521.4 1103,508 1107.2,493.3 1116,483.4 1127.8,474.2 1142.2,471.5 1156.5,470.8 1185.7,470.5 1195.5,470.5"/>
<polyline points="1241.3,501.4 1242.9,472.4 1246.8,481.1 1251.7,480.7 1256.6,485.7 1267,495 1278.2,504.8 1302.1,521.7 1326.3,537.5 1348.2,547.2"/>
<polyline points="1394,547.4 1395,471.9 1395.7,487.6 1396,520.3 1397.3,541 1401.5,546 1407.1,545.6 1428,547.4 1500.3,547.4"/>
</g>
<g fill="#111">
<circle cx="1088.8" cy="547.2" r="2.3"/><circle cx="1099.6" cy="521.4" r="2.3"/><circle cx="1107.2" cy="493.3" r="2.3"/><circle cx="1127.8" cy="474.2" r="2.3"/><circle cx="1156.5" cy="470.8" r="2.3"/><circle cx="1185.7" cy="470.5" r="2.3"/>
<circle cx="1241.3" cy="501.4" r="2.3"/><circle cx="1242.9" cy="472.4" r="2.3"/><circle cx="1256.6" cy="485.7" r="2.3"/><circle cx="1278.2" cy="504.8" r="2.3"/><circle cx="1302.1" cy="521.7" r="2.3"/><circle cx="1326.3" cy="537.5" r="2.3"/>
<circle cx="1394" cy="547.4" r="2.3"/><circle cx="1395" cy="471.9" r="2.3"/><circle cx="1394.8" cy="487.6" r="2.3"/><circle cx="1394.8" cy="512" r="2.3"/><circle cx="1395.5" cy="520.3" r="2.3"/><circle cx="1401.5" cy="546" r="2.3"/><circle cx="1428" cy="547.4" r="2.3"/><circle cx="1457" cy="547.4" r="2.3"/><circle cx="1486" cy="547.4" r="2.3"/>
</g>
<g class="tk2" font-size="9.5">
<text x="1081" y="472" text-anchor="end">4000</text><text x="1081" y="514" text-anchor="end">2000</text>
<text x="1233" y="498" text-anchor="end">10<tspan font-size="6.5" dy="-3">−2</tspan></text><text x="1233" y="531" text-anchor="end">10<tspan font-size="6.5" dy="-3">−4</tspan></text>
<text x="1385" y="487" text-anchor="end">0.03</text><text x="1385" y="508" text-anchor="end">0.02</text><text x="1385" y="529.5" text-anchor="end">0.01</text><text x="1385" y="550.5" text-anchor="end">0.00</text>
<text x="1088.8" y="563" text-anchor="middle">0</text><text x="1142.2" y="563" text-anchor="middle">500</text><text x="1195.5" y="563" text-anchor="middle">1000</text>
<text x="1241.3" y="563" text-anchor="middle">0</text><text x="1295" y="563" text-anchor="middle">500</text><text x="1348.2" y="563" text-anchor="middle">1000</text>
<text x="1394" y="563" text-anchor="middle">0</text><text x="1447" y="563" text-anchor="middle">500</text><text x="1500.3" y="563" text-anchor="middle">1000</text>
<text x="1142" y="576" text-anchor="middle" font-size="11.5">Iterations</text><text x="1295" y="576" text-anchor="middle" font-size="11.5">Iterations</text><text x="1447" y="576" text-anchor="middle" font-size="11.5">Iterations</text>
</g>
<text x="1058" y="595.5" class="t" textLength="448" lengthAdjust="spacingAndGlyphs"><tspan fill="#2a2ac8">Figure 2.</tspan> Performance of our teleportation algorithm for initializing a</text>
<text x="1058" y="613" class="t" textLength="400" lengthAdjust="spacingAndGlyphs">one-layer neural network with soft-plus activations on MNIST.</text>

<!-- Figure 3 -->
<text x="1183" y="645" class="tk2" font-size="13.5" text-anchor="middle">Logistic Regression</text>
<text x="1413" y="645" class="tk2" font-size="13.5" text-anchor="middle">Shallow Neural Network</text>
<g class="tk" text-anchor="end" font-size="7">
<text x="1083" y="805.6">0.0</text><text x="1083" y="774">0.2</text><text x="1083" y="742">0.4</text><text x="1083" y="710.5">0.6</text><text x="1083" y="679">0.8</text><text x="1083" y="647.5">1.0</text>
<text x="1313" y="805.6">0.0</text><text x="1313" y="774">0.2</text><text x="1313" y="742">0.4</text><text x="1313" y="710.5">0.6</text><text x="1313" y="679">0.8</text><text x="1313" y="647.5">1.0</text>
</g>
<g class="tk" text-anchor="middle" font-size="7.5">
<text x="1085.6" y="814">10<tspan font-size="5" dy="-3">−2</tspan></text><text x="1138.2" y="814">10<tspan font-size="5" dy="-3">−1</tspan></text><text x="1191.2" y="814">10<tspan font-size="5" dy="-3">0</tspan></text><text x="1243.6" y="814">10<tspan font-size="5" dy="-3">1</tspan></text>
<text x="1315.5" y="814">10<tspan font-size="5" dy="-3">−3</tspan></text><text x="1357.4" y="814">10<tspan font-size="5" dy="-3">−2</tspan></text><text x="1399" y="814">10<tspan font-size="5" dy="-3">−1</tspan></text><text x="1439.8" y="814">10<tspan font-size="5" dy="-3">0</tspan></text><text x="1481.4" y="814">10<tspan font-size="5" dy="-3">1</tspan></text>
</g>
<text x="1183" y="828" class="tk2" font-size="12" text-anchor="middle">Time (Seconds)</text>
<text x="1413" y="828" class="tk2" font-size="12" text-anchor="middle">Time (Seconds)</text>
<text x="1068" y="724" class="tk2" font-size="11" text-anchor="middle" transform="rotate(-90 1068 724)">Prop. of Problems Solved</text>

<g clip-path="url(#cpA)">
<line x1="1085.6" y1="724.4" x2="1281" y2="724.4" stroke="#000" stroke-width="2" stroke-dasharray="6 3"/>
<g transform="translate(1190.8,803.6) scale(52.6,-158.4)">
<polyline class="ln" stroke="#4a7ab8" points="-2,0.09 -1.6,0.14 -1.2,0.18 -0.8,0.22 -0.5,0.25 -0.3,0.32 -0.1,0.42 0.1,0.5 0.3,0.6 0.6,0.61 1,0.65 1.3,0.68 1.8,0.68"/>
<polyline class="ln ds" stroke="#4a7ab8" points="-2,0.08 -1.6,0.13 -1.2,0.16 -0.8,0.2 -0.5,0.25 -0.3,0.35 -0.1,0.48 0.1,0.55 0.3,0.64 0.6,0.67 1,0.69 1.2,0.72 1.8,0.725"/>
<polyline class="ln ds" stroke="#5aa02c" points="-2,0.02 -1.6,0.08 -1.2,0.2 -0.9,0.25 -0.5,0.25 -0.3,0.32 -0.1,0.4 0.1,0.48 0.3,0.63 0.6,0.65 0.9,0.7 1.2,0.76 1.6,0.79 1.8,0.79"/>
<polyline class="ln" stroke="#5aa02c" points="-2,0.01 -1.6,0.06 -1.2,0.15 -0.8,0.19 -0.5,0.25 -0.2,0.3 0,0.34 0.2,0.34 0.3,0.41 0.6,0.415 0.9,0.43 1.2,0.45 1.8,0.455"/>
<polyline class="ln ds" stroke="#d62728" points="-2,0.03 -1.6,0.05 -1.2,0.1 -0.8,0.14 -0.5,0.22 -0.2,0.33 0.1,0.42 0.3,0.52 0.5,0.54 0.7,0.6 1,0.64 1.3,0.68 1.8,0.69"/>
<polyline class="ln" stroke="#d62728" points="-2,0.03 -1.6,0.05 -1.2,0.12 -0.8,0.17 -0.5,0.22 -0.2,0.33 0.1,0.38 0.3,0.48 0.6,0.5 0.9,0.53 1.2,0.59 1.8,0.61"/>
<polyline class="ln ds" stroke="#f0872a" points="-2,0.02 -1.6,0.04 -1.2,0.1 -0.8,0.15 -0.5,0.21 -0.2,0.3 0.1,0.4 0.3,0.54 0.6,0.52 1,0.62 1.3,0.64 1.8,0.66"/>
<polyline class="ln" stroke="#f0872a" points="-2,0.01 -1.6,0.04 -1.2,0.1 -0.8,0.15 -0.5,0.2 -0.2,0.3 0.1,0.38 0.3,0.5 0.6,0.52 1,0.6 1.3,0.615 1.8,0.62"/>
</g>
</g>
<g clip-path="url(#cpB)">
<line x1="1315.5" y1="724.4" x2="1511" y2="724.4" stroke="#000" stroke-width="2" stroke-dasharray="6 3"/>
<g transform="translate(1440,803.6) scale(41.5,-158.4)">
<polyline class="ln ds" stroke="#4a7ab8" points="-3,0.13 -2.8,0.2 -2.7,0.26 -2,0.28 -1.5,0.32 -1,0.35 -0.5,0.38 -0.2,0.45 0,0.55 0.2,0.65 0.5,0.68 1,0.7 1.3,0.72 1.8,0.72"/>
<polyline class="ln" stroke="#4a7ab8" points="-3,0.1 -2.8,0.15 -2.7,0.21 -2,0.24 -1.5,0.3 -1,0.34 -0.5,0.37 -0.2,0.45 0,0.5 0.2,0.6 0.5,0.63 1,0.66 1.3,0.68 1.8,0.68"/>
<polyline class="ln ds" stroke="#5aa02c" points="-3,0.01 -2.2,0.03 -2,0.08 -1.5,0.12 -1.2,0.28 -1,0.36 -0.5,0.38 -0.2,0.45 0.1,0.6 0.4,0.65 0.9,0.7 1.1,0.74 1.6,0.79 1.8,0.79"/>
<polyline class="ln" stroke="#5aa02c" points="-3,0 -2.2,0.02 -2,0.08 -1.5,0.14 -1.2,0.26 -1,0.35 -0.5,0.37 0,0.4 0.5,0.42 1,0.44 1.8,0.455"/>
<polyline class="ln ds" stroke="#d62728" points="-3,0.05 -2.2,0.05 -2,0.07 -1.5,0.12 -1.2,0.3 -1,0.35 -0.5,0.36 0,0.44 0.4,0.52 1,0.6 1.3,0.68 1.8,0.68"/>
<polyline class="ln" stroke="#d62728" points="-3,0.05 -2.2,0.05 -2,0.06 -1.5,0.11 -1.2,0.28 -1,0.34 -0.5,0.35 0,0.42 0.4,0.5 1,0.56 1.3,0.6 1.8,0.61"/>
<polyline class="ln ds" stroke="#f0872a" points="-3,0 -2,0.05 -1.5,0.1 -1.1,0.2 -1,0.34 -0.5,0.36 0,0.44 0.4,0.54 1,0.62 1.8,0.65"/>
<polyline class="ln" stroke="#f0872a" points="-3,0 -2,0.04 -1.5,0.09 -1.1,0.18 -1,0.33 -0.5,0.35 0,0.42 0.4,0.5 1,0.6 1.8,0.62"/>
</g>
</g>
<g fill="none" stroke="#666" stroke-width="0.6"><rect x="1085.6" y="645.2" width="195.3" height="158.4"/><rect x="1315.5" y="645.2" width="195.6" height="158.4"/></g>

<!-- legend -->
<g stroke-width="1.8">
<line x1="1117.5" y1="845" x2="1142" y2="845" stroke="#f0872a"/><polygon points="1126.5,842.5 1133,842.5 1129.7,848" fill="#f0872a"/>
<line x1="1193.5" y1="845" x2="1218" y2="845" stroke="#5aa02c"/><path d="M1203,842.5 l5,5 M1208,842.5 l-5,5" stroke="#5aa02c"/>
<line x1="1285" y1="845" x2="1310" y2="845" stroke="#d62728"/><polygon points="1297.5,841.5 1301,845 1297.5,848.5 1294,845" fill="#d62728"/>
<line x1="1363" y1="845" x2="1387" y2="845" stroke="#4a7ab8"/><rect x="1372.5" y="842.5" width="5" height="5" fill="#4a7ab8"/>
</g>
<g class="tk2" font-size="11"><text x="1151" y="849">SPS</text><text x="1227" y="849">SGD-M</text><text x="1319" y="849">SGD</text><text x="1397" y="849">Norm. SGD</text></g>

<text x="1058" y="873" class="t" textLength="390" lengthAdjust="spacingAndGlyphs"><tspan fill="#2a2ac8">Figure 3.</tspan> Performance of gradient methods with and without</text>
<text x="1058" y="891" class="t" textLength="460" lengthAdjust="spacingAndGlyphs">initialization by teleportation on 160 problems from the UCI repository.</text>
<text x="1058" y="913" class="t b" textLength="73" lengthAdjust="spacingAndGlyphs">References</text>
<line x1="1058" y1="916" x2="1131" y2="916" stroke="#111" stroke-width="0.8"/>
<g class="t" font-size="9.6">
<text x="1058" y="933" textLength="463" lengthAdjust="spacingAndGlyphs">He, K., Zhang, X., Ren, S., and Sun, J.  Delving deep into rectifiers: Surpassing human-level performance</text>
<text x="1072" y="946" textLength="397" lengthAdjust="spacingAndGlyphs">on ImageNet classification.  In <tspan font-style="italic">ICCV 2015</tspan>, pp. 1026–1034. IEEE Computer Society, 2015.</text>
<text x="1058" y="963" textLength="463" lengthAdjust="spacingAndGlyphs">Torrisi, G., Grammatico, S., Smith, R. S., and Morari, M.  A projected gradient and constraint linearization</text>
<text x="1072" y="976" textLength="428" lengthAdjust="spacingAndGlyphs">method for nonlinear model predictive control. <tspan font-style="italic">SIAM J. Control. Optim.</tspan>, 56(3):1968–1999, 2018.</text>
<text x="1058" y="993" textLength="463" lengthAdjust="spacingAndGlyphs">Zhao, B., Dehmamy, N., Walters, R., and Yu, R.  Symmetry teleportation for accelerated optimization.  In</text>
<text x="1072" y="1006" textLength="62" lengthAdjust="spacingAndGlyphs"><tspan font-style="italic">NeurIPS</tspan>, 2022.</text>
</g>
<text x="1217" y="1030" class="t dr" font-size="15" textLength="300" lengthAdjust="spacingAndGlyphs"><tspan font-weight="bold">Correspondence</tspan>: amishkin@cs.stanford.edu</text>
</svg>
</body></html>
